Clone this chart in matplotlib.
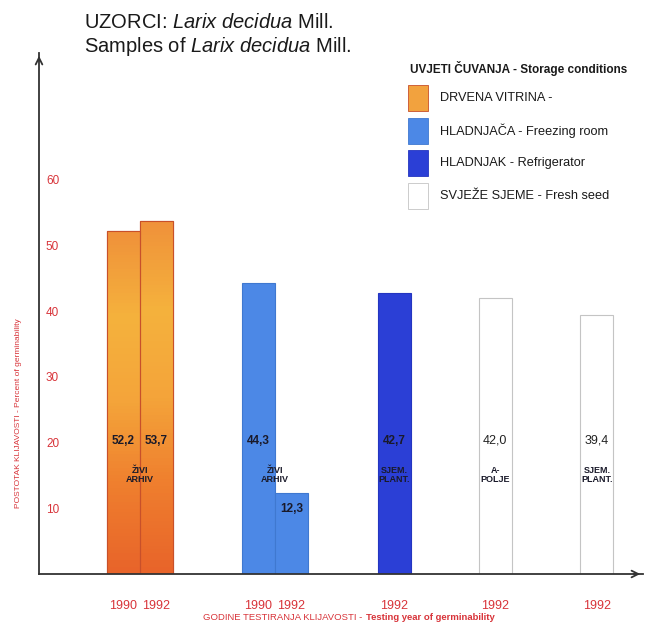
import numpy as np
import matplotlib.pyplot as plt
from matplotlib.colors import LinearSegmentedColormap
from matplotlib.patches import Rectangle

plt.rcParams['font.family'] = ['Liberation Sans', 'DejaVu Sans']
plt.rcParams['mathtext.fontset'] = 'custom'
plt.rcParams['mathtext.rm'] = 'Liberation Sans'
plt.rcParams['mathtext.it'] = 'Liberation Sans:italic'

# data
years = ['1990', '1992', '1990', '1992', '1992', '1992', '1992']
germination = [52.2, 53.7, 44.3, 12.3, 42.7, 42.0, 39.4]
storage = ['DRVENA VITRINA', 'DRVENA VITRINA', 'HLADNJAČA', 'HLADNJAČA',
           'HLADNJAK', 'SVJEŽE SJEME', 'SVJEŽE SJEME']
sites = ['ŽIVI\nARHIV', 'ŽIVI\nARHIV', 'SJEM.\nPLANT.', 'A-\nPOLJE', 'SJEM.\nPLANT.']
site_bars = [(0, 1), (2, 3), (4,), (5,), (6,)]
legend_labels = ['DRVENA VITRINA -', 'HLADNJAČA - Freezing room',
                 'HLADNJAK - Refrigerator', 'SVJEŽE SJEME - Fresh seed']
legend_keys = ['DRVENA VITRINA', 'HLADNJAČA', 'HLADNJAK', 'SVJEŽE SJEME']

# layout
bar_x = [2.55, 3.55, 6.65, 7.65, 10.76, 13.82, 16.9]
bar_w = 1.0
red = '#d8343a'
colors = {'DRVENA VITRINA': '#f2a23e', 'HLADNJAČA': '#4c88e6',
          'HLADNJAK': '#2b3fd6', 'SVJEŽE SJEME': '#ffffff'}
edges = {'DRVENA VITRINA': '#c8502a', 'HLADNJAČA': '#3f78d0',
         'HLADNJAK': '#2435c0', 'SVJEŽE SJEME': '#c4c4c4'}
orange_cmap = LinearSegmentedColormap.from_list(
    'wood', ['#e8642a', '#ef7e2e', '#f4a43a', '#f5b23d', '#f0923a'])

fig = plt.figure(figsize=(6.48, 6.23), dpi=100)
ax = fig.add_axes([39 / 648, 49 / 623, 604 / 648, 521 / 623])

for x, v, s in zip(bar_x, germination, storage):
    bar = ax.bar(x, v, width=bar_w, color=colors[s], edgecolor=edges[s],
                 linewidth=0.8, zorder=2)[0]
    if s == 'DRVENA VITRINA':
        grad = np.linspace(0, 1, 100).reshape(-1, 1)
        im = ax.imshow(grad, extent=[x - bar_w / 2, x + bar_w / 2, 0, v],
                       origin='lower', aspect='auto', cmap=orange_cmap, zorder=2.1)
        im.set_clip_path(bar)
        ax.bar(x, v, width=bar_w, fill=False, edgecolor=edges[s],
               linewidth=0.8, zorder=2.2)

# value labels
for x, v, s in zip(bar_x, germination, storage):
    y = min(20.3, v - 2.4)
    txt = f'{v:.1f}'.replace('.', ',')
    if s == 'SVJEŽE SJEME':
        ax.text(x, y, txt, ha='center', va='center', fontsize=9, color='#222222', zorder=3)
    else:
        ax.text(x, y, txt, ha='center', va='center', fontsize=8.5,
                fontweight='bold', color='#1a1a2a', zorder=3)

# site labels
for lab, idx in zip(sites, site_bars):
    xc = np.mean([bar_x[i] for i in idx])
    ax.text(xc, 15.0, lab, ha='center', va='center', fontsize=6.5,
            fontweight='bold', color='#1a1a2a', linespacing=1.0, zorder=3)

ax.set_xlim(0, 18.3)
ax.set_ylim(0, 79.3)
for sp in ['top', 'right']:
    ax.spines[sp].set_visible(False)
for sp in ['left', 'bottom']:
    ax.spines[sp].set_color('#333333')
    ax.spines[sp].set_linewidth(1.3)
ax.annotate('', xy=(0, 1), xytext=(0, 0.98), xycoords='axes fraction',
            arrowprops=dict(arrowstyle='->', color='#333333', lw=1.3, mutation_scale=12))
ax.annotate('', xy=(1, 0), xytext=(0.98, 0), xycoords='axes fraction',
            arrowprops=dict(arrowstyle='->', color='#333333', lw=1.3, mutation_scale=12))

ax.set_yticks([10, 20, 30, 40, 50, 60])
ax.tick_params(axis='y', length=0, pad=-5, labelcolor=red, labelsize=8.5)
for t in ax.get_yticklabels():
    t.set_horizontalalignment('left')
ax.set_xticks(bar_x)
ax.set_xticklabels(years)
ax.tick_params(axis='x', length=0, pad=19, labelcolor=red, labelsize=9)

# axis titles
fig.text(19 / 648, 1 - 413 / 623, 'POSTOTAK KLIJAVOSTI - Percent of germinability',
         rotation=90, ha='center', va='center', fontsize=6, color=red)
fig.text(365 / 648, 1 - 617 / 623, 'GODINE TESTIRANJA KLIJAVOSTI - ',
         ha='right', va='center', fontsize=6.8, color=red)
fig.text(366 / 648, 1 - 617 / 623, 'Testing year of germinability',
         ha='left', va='center', fontsize=6.8, color=red, fontweight='bold')

# title
fig.text(84 / 648, 1 - 28 / 623, r'UZORCI: $\it{Larix\ decidua}$ Mill.',
         ha='left', va='baseline', fontsize=14.5, color='#1a1a1a')
fig.text(84 / 648, 1 - 52 / 623, r'Samples of $\it{Larix\ decidua}$ Mill.',
         ha='left', va='baseline', fontsize=14.5, color='#1a1a1a')

# storage legend
fig.text(410 / 648, 1 - 68 / 623, 'UVJETI ČUVANJA - Storage conditions',
         ha='left', va='center', fontsize=8.5, fontweight='bold', color='#1a1a1a')
row_y = [98, 131, 163, 196]
for yy, key, lab in zip(row_y, legend_keys, legend_labels):
    fig.add_artist(Rectangle((408 / 648, 1 - (yy + 13) / 623), 20 / 648, 26 / 623,
                             transform=fig.transFigure, facecolor=colors[key],
                             edgecolor=edges[key], linewidth=0.6))
    fig.text(440 / 648, 1 - yy / 623, lab, ha='left', va='center',
             fontsize=9.2, color='#1a1a1a')

fig.savefig('out.png', dpi=100)
